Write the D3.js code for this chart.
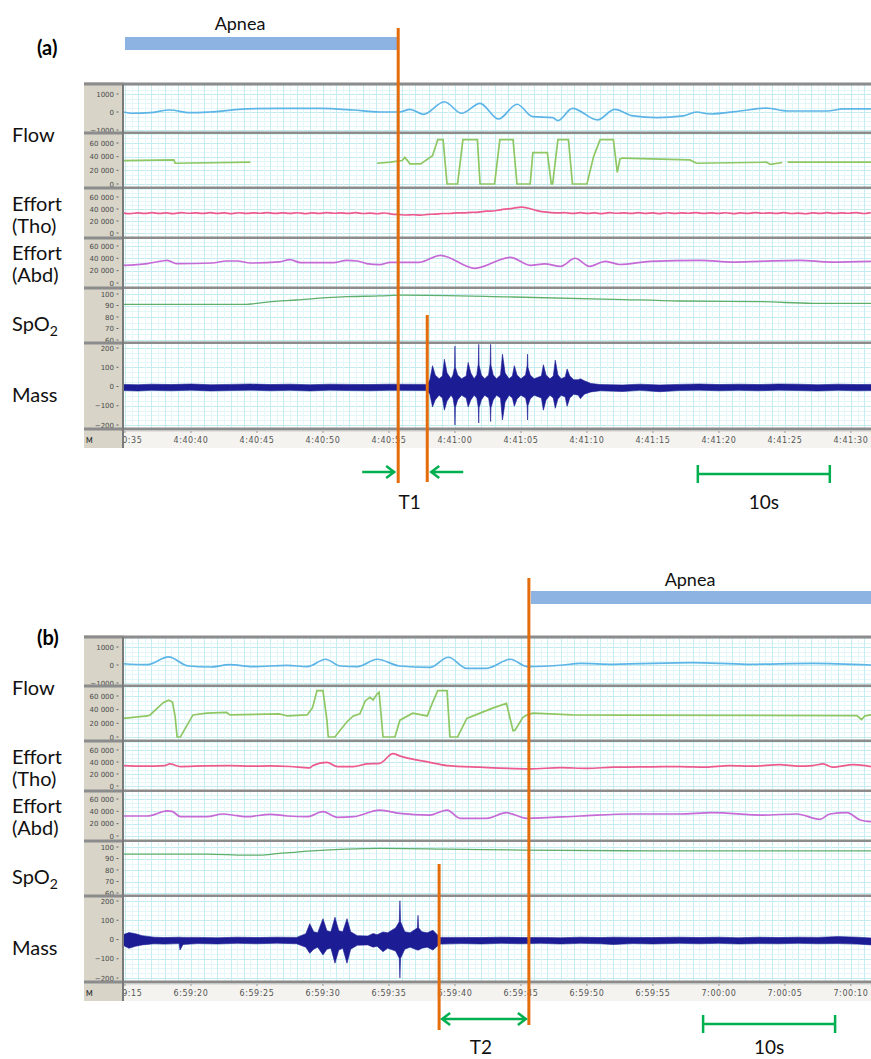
<!DOCTYPE html>
<html>
<head>
<meta charset="utf-8">
<script src="https://cdn.jsdelivr.net/npm/d3@7"></script>
<style>
  body { margin: 0; background: #fff; }
  text { font-family: Lato, "Open Sans", sans-serif; }
  .tickLbl { font-family: "DejaVu Sans", sans-serif; font-size: 7px; fill: #4a4a4a; }
  .timeLbl { font-family: "DejaVu Sans", sans-serif; font-size: 8px; fill: #555; letter-spacing: 0.6px; }
</style>
</head>
<body>
<div id="chart"></div>
<script>
var svgWidth = 871;
var svgHeight = 1059;
var plotLeft = 123, plotRight = 871;

// time is in seconds after the first (clipped) time label of each recording
var timeDomain = [-0.15, 56.52];
var startA = 4 * 3600 + 40 * 60 + 35;   // 4:40:35
var startB = 6 * 3600 + 59 * 60 + 15;   // 6:59:15

// ---------- panel (a) ----------
var apneaA = [-0.15, 20.7];
var markA = 22.9;            // start of snoring (T1 end)
var scaleBarA = [43.4, 53.4];

var flowA = [[-0.15,0],[0.6,-70],[1.9,-40],[3.4,110],[4.9,-40],[6.4,0],[9.2,170],[11.7,200],[14.8,200],[17.3,110],[19.3,0],[20.8,0],[21.6,150],[22.6,-130],[24.2,570],[25.5,-70],[26.9,480],[28.3,-390],[29.7,430],[30.9,-260],[32.4,-310],[32.8,-480],[33.9,200],[35.8,-440],[37.1,150],[38.5,-220],[40.3,-310],[42.3,-220],[43.3,0],[44.3,-110],[46.6,55],[48.6,220],[50.2,55],[53.2,55],[54.4,170],[56.52,170]];

// flow (thermistor) in thousands, null = no signal
var flow2A = [[-0.15,34.3],[3.7,35.3],[3.8,30.4],[9.5,31.9],[9.6,null],[19.0,null],[19.1,30.4],[20.1,31.9],[21.0,34.3],[21.2,39],[21.6,29.5],[22.4,29.5],[23.3,41.4],[23.7,65],[24.1,65],[24.4,0],[25.2,0],[25.6,65],[26.7,65],[26.9,0],[28.0,0],[28.4,65],[29.4,65],[29.7,0],[30.7,0],[30.9,46],[32.0,46],[32.3,0],[32.4,0],[32.8,65],[33.6,65],[33.9,0],[35.0,0],[35.5,40],[36.0,65],[37.0,65],[37.3,17],[37.5,36.7],[37.7,38],[42.8,35.3],[43.3,30.4],[48.6,31.9],[48.9,28.6],[49.8,31.5],[49.9,null],[50.1,null],[50.2,31.9],[56.52,31.9]];

// thoracic effort (thousands), one reading every 0.55 s from -0.15 s
var thoStepA = 0.55;
var thoA = [33.5,31.5,34.5,31.5,35,31.5,34.5,31,35,32,34.5,31.5,35,31.5,34.5,31,35,31.5,34.5,32,35,31.5,34.5,31.5,35,31,34.5,31.5,35,32,34.5,31.5,35,31.5,34,31,34.5,31,
  31,29.5,31,29,31.5,
  31,33,32,34,33,35,34,37,36,39,40,42,44,
  41,37,35,34,33,
  34.5,31.5,35,31.5,34.5,31,35,32,34.5,31.5,35,31.5,34.5,31,35,31.5,34.5,32,35,31.5,34.5,31.5,35,31,34.5,31.5,35,32,34.5,31.5,35,31.5,34,31,34.5,31.5,35,31.5,34.5,32,35,31.5,34];

var abdA = [[-0.15,28.7],[1.7,31.5],[2.8,35.7],[3.2,36.8],[3.9,31.5],[6.6,32.4],[7.7,35.7],[8.5,35.7],[9.5,32.4],[11.7,34.1],[12.5,38],[13.3,33],[15.8,33],[16.8,36.8],[17.6,35.7],[18.3,31.5],[19.3,29.8],[20.1,33.6],[22.3,33.6],[23.9,44.9],[26.5,23.8],[29.2,41.7],[30.7,28.7],[31.8,31],[33.0,27.1],[34.1,40.1],[35.2,27.1],[36.4,35.2],[37.5,30],[39.8,35.2],[43.6,36.8],[46,34],[48.1,35.2],[51.1,36.8],[53.5,34],[56.52,35.2]];

var spo2A = [[-0.15,91],[9.2,91],[9.7,91.5],[10.8,93],[13,94.8],[15.3,96.8],[16.8,97.7],[19.3,98.3],[21,99],[29.4,97.4],[37,95.4],[42,93.9],[48.3,93.3],[52.1,91.9],[56.52,91.9]];

// mass (sound) envelope: [t, low, high]
var massA = [[-0.15,-21,11],[1,-23,9],[2,-20,12],[3.5,-22,10],[5,-19,13],[6.5,-23,9],[8,-21,11],[9.5,-19,13],[11,-22,10],[12.5,-20,12],[14,-23,9],[15.5,-19,12],[17,-21,11],[18.5,-22,10],[20,-20,12],[22.9,-21,11],
  [23.1,-40,35],[23.3,-106,108],[23.5,-70,60],[23.8,-45,40],
  [24.05,-60,55],[24.2,-123,142],[24.4,-75,70],[24.7,-45,40],
  [24.85,-60,60],[24.97,-110,100],[25.0,-200,210],[25.03,-110,100],[25.2,-70,60],[25.5,-45,40],
  [25.85,-60,55],[26.0,-106,125],[26.2,-70,70],[26.45,-45,40],
  [26.65,-60,60],[26.77,-110,120],[26.8,-190,219],[26.83,-110,110],[27.0,-70,60],[27.25,-45,40],
  [27.55,-60,60],[27.67,-110,120],[27.7,-182,219],[27.73,-110,110],[27.9,-70,60],[28.15,-45,40],
  [28.45,-60,60],[28.6,-174,168],[28.8,-80,70],[29.1,-45,40],
  [29.35,-60,55],[29.5,-103,108],[29.7,-65,60],[30.0,-45,40],
  [30.35,-60,60],[30.47,-100,110],[30.5,-174,168],[30.53,-100,100],[30.7,-65,60],[31.0,-45,40],
  [31.55,-60,55],[31.7,-123,113],[31.9,-70,60],[32.2,-45,40],
  [32.45,-60,55],[32.6,-113,137],[32.8,-65,60],[33.05,-45,40],
  [33.35,-55,50],[33.5,-103,91],[33.7,-60,55],[34.0,-40,35],
  [34.35,-45,35],[34.5,-63,40],[34.8,-40,30],[35.3,-28,16],
  [36,-22,10],[37.7,-26,8],[39,-20,12],[40.5,-27,8],[42,-21,11],[43.5,-19,13],[45,-22,10],[46.5,-20,12],[48,-22,10],[49.5,-19,13],[51,-21,12],[52.5,-23,9],[54,-20,12],[55.5,-22,10],[56.52,-21,11]];

// ---------- panel (b) ----------
var apneaB = [30.6, 56.52];
var markB = 23.8;            // end of snoring (T2 start)
var scaleBarB = [43.8, 53.8];

var flowB = [[-0.15,70],[1.7,20],[3.3,450],[4.8,-55],[6.5,-110],[7.9,20],[9.7,-90],[12.3,-20],[13.8,-90],[15.2,320],[16.3,-55],[17.6,-90],[19.1,320],[20.8,-55],[23.1,-130],[24.5,430],[25.9,-185],[27.4,-185],[29.2,320],[30.5,-90],[33.2,0],[34.5,90],[37,40],[43,130],[47.1,40],[52.1,90],[56.52,0]];

var flow2B = [[-0.15,27.2],[1.7,30.8],[1.9,32.3],[2.9,50.3],[3.3,53.8],[3.6,51.2],[3.8,29.7],[3.95,0],[4.2,0],[5.15,32.3],[6.2,34.9],[7.7,35.9],[7.95,32.3],[11.7,33.8],[12.3,30.8],[13.8,32.3],[14.2,42.6],[14.55,68],[15.0,68],[15.3,24.6],[15.4,0],[15.9,0],[16.8,22],[17.3,30.8],[17.8,33.8],[18.2,52.8],[18.56,58],[18.8,54.3],[19.1,63],[19.25,65.6],[19.55,0],[20.45,0],[20.83,24.6],[21.8,34.9],[22.9,30.8],[23.3,50.3],[23.7,68],[24.4,68],[24.62,0],[25.2,0],[25.9,27.2],[26.9,34.9],[27.9,42.6],[28.9,49.2],[29.4,9.2],[29.55,10],[30.15,28.7],[30.45,32.3],[30.9,34.9],[33.9,32.3],[37.5,32],[55.45,31.2],[55.8,25.6],[56.06,31],[56.52,32.3]];

var thoB = [[-0.15,34],[1.5,33],[3,34],[3.4,36.8],[4.2,32.4],[6,33.5],[8,34],[9.5,33],[11,33.5],[12.5,32.5],[14,30.3],[14.24,34],[15.3,39.4],[16.1,32.4],[17.3,32.4],[18.3,36.8],[19.3,37.8],[20.3,54],[20.8,50.3],[23.1,39.4],[24.4,34],[26.9,31.3],[30.7,28.7],[33,30.5],[35,29.5],[37,31.3],[40,32],[42,32.4],[44,31.5],[45.8,34],[47.5,33],[49.6,35.7],[51,33],[52.1,34],[52.9,36.8],[53.6,31.3],[55.2,35.7],[56.52,32.4]];

var abdB = [[-0.15,32.4],[1.7,32.4],[3.2,40.6],[3.56,40],[4.2,31.3],[6.2,31.3],[7.4,35.7],[8.5,33],[9.2,31.3],[11,35.2],[12.3,32.4],[13.8,31.3],[15,39.4],[16.1,30.3],[17.3,31.3],[19.3,42],[20.8,36.8],[23.1,34],[24.4,42],[25.4,28.7],[27.4,28.7],[28.9,37.8],[30.45,28.7],[34.5,32.4],[38.3,35.7],[42,35.7],[44.5,37.8],[48.3,34],[50.9,35.7],[52.65,27],[53.4,35.7],[54.7,37.8],[55.7,26],[56.52,23.2]];

var spo2B = [[-0.15,93.8],[6.2,93.8],[9.2,92.9],[10.2,92.9],[11.7,94.4],[14.2,96.7],[16.8,98.2],[19.3,98.8],[24.4,98.2],[30.2,97.3],[40,96.7],[56.52,96.7]];

var massB = [[-0.15,-30,25],[0.3,-46,36],[0.8,-35,30],[1.3,-28,20],[2.2,-22,12],[3,-24,10],[4.1,-21,12],[4.17,-55,12],[4.4,-26,11],[5.5,-21,11],[7,-23,9],[8.5,-20,12],[10,-22,10],[11.5,-19,12],[13,-22,11],
  [13.7,-40,30],[14.0,-72,82],[14.3,-50,40],[14.6,-40,35],[15.0,-80,108],[15.3,-50,45],[15.6,-45,40],[15.91,-123,116],[16.2,-55,45],[16.5,-45,40],[16.82,-123,108],[17.1,-50,40],[17.6,-30,20],
  [18.4,-28,18],[18.8,-40,31],[19.1,-35,25],[19.55,-63,39],[19.9,-45,35],[20.5,-60,60],[20.78,-97,92],[20.83,-200,201],[20.88,-97,92],[21.2,-50,40],[21.6,-40,35],[22.15,-55,60],[22.2,-55,125],[22.25,-55,60],[22.5,-45,40],[22.9,-40,35],[23.33,-55,48],[23.7,-32,22],[23.9,-24,11],
  [25.5,-21,11],[27,-23,10],[28.5,-20,12],[30,-22,10],[31.5,-20,11],[33,-23,9],[34.5,-20,12],[36,-22,10],[37,-26,12],[38.5,-21,11],[40,-23,10],[42,-20,12],[43.5,-22,10],[45,-20,12],[46.5,-23,9],[48,-21,12],[49.5,-22,10],[51,-20,12],[52.5,-22,11],[54,-21,15],[55.5,-24,12],[56.52,-28,8]];

// rows of the polygraph window (y positions relative to the panel top)
var rows = [
  {key: "flow",  domain: [-1000, 1000], range: [46, 10],   top: 0,   bottom: 49,  ticks: [1000, 0, -1000], grid: 250, color: "#5db4e6"},
  {key: "flow2", domain: [0, 60],       range: [100, 59],  top: 49,  bottom: 104, ticks: [60, 40, 20, 0], grid: 20 / 3, color: "#8fc764", k: true},
  {key: "tho",   domain: [0, 60],       range: [149, 113], top: 104, bottom: 154, ticks: [60, 40, 20, 0], grid: 20 / 3, color: "#ec5b8e", k: true},
  {key: "abd",   domain: [0, 60],       range: [199, 162], top: 154, bottom: 204, ticks: [60, 40, 20, 0], grid: 20 / 3, color: "#c66ad6", k: true},
  {key: "spo2",  domain: [60, 100],     range: [256, 210], top: 204, bottom: 259, ticks: [100, 90, 80, 70, 60], grid: 5, color: "#5fae6c"},
  {key: "mass",  domain: [-200, 200],   range: [341, 264], top: 259, bottom: 345, ticks: [200, 100, 0, -100, -200], grid: 25, color: "#1c1c95"}
];

var sideLabels = [
  {lines: ["Flow"], y: 51},
  {lines: ["Effort", "(Tho)"], y: 120},
  {lines: ["Effort", "(Abd)"], y: 169},
  {lines: ["SpO2"], y: 240},
  {lines: ["Mass"], y: 311}
];

var panels = [
  {id: "a", top: 84, start: startA, flow: flowA, flow2: flow2A, abd: abdA, spo2: spo2A, mass: massA,
   tho: thoA.map(function(v, i) { return [-0.15 + i * thoStepA, v]; }),
   tag: "(a)", tagY: 55, apnea: apneaA, apneaTextX: 240, apneaTextY: 30, barY: 37,
   mainLine: apneaA[1], mainY: [28, 483], mark: markA, markY: [315, 482],
   label: "T1", arrowY: 472, scaleBar: scaleBarA, scaleY: 474, textY: 509},
  {id: "b", top: 637, start: startB, flow: flowB, flow2: flow2B, tho: thoB, abd: abdB, spo2: spo2B, mass: massB,
   tag: "(b)", tagY: 645, apnea: apneaB, apneaTextX: 690, apneaTextY: 586, barY: 591,
   mainLine: apneaB[0], mainY: [578, 1025], mark: markB, markY: [864, 1030],
   label: "T2", arrowY: 1019, scaleBar: scaleBarB, scaleY: 1024, textY: 1054}
];

var svg = d3.select("#chart")
  .append("svg")
  .attr("width", svgWidth)
  .attr("height", svgHeight);

var x = d3.scaleLinear().domain(timeDomain).range([plotLeft, plotRight]);

function fmtTime(s) {
  var h = Math.floor(s / 3600), m = Math.floor(s / 60) % 60, sec = s % 60;
  return h + ":" + d3.format("02")(m) + ":" + d3.format("02")(sec);
}
function fmtTick(v, k) {
  return k ? d3.format(",")(v * 1000).replace(/,/g, " ").replace("-", "\u2212")
           : String(v).replace("-", "\u2212");
}

var green = "#00b050", orange = "#e46c0a";

function drawPanel(p) {
  var g = svg.append("g").attr("transform", `translate(0, ${p.top})`);

  // gray value-label strip and time strip
  g.append("rect").attr("x", 84).attr("y", -2).attr("width", 40).attr("height", 366).attr("fill", "#d8d5c8");
  g.append("rect").attr("x", plotLeft).attr("y", 346).attr("width", plotRight - plotLeft).attr("height", 18).attr("fill", "#f4f3ef");

  rows.forEach(function(r) {
    var y = d3.scaleLinear().domain(r.domain).range(r.range);
    var clipId = "clip-" + p.id + "-" + r.key;
    g.append("clipPath").attr("id", clipId)
      .append("rect").attr("x", plotLeft).attr("y", r.top + 1).attr("width", plotRight - plotLeft).attr("height", r.bottom - r.top - 2);
    var lblClip = "lclip-" + p.id + "-" + r.key;
    g.append("clipPath").attr("id", lblClip)
      .append("rect").attr("x", 84).attr("y", r.top + 2).attr("width", 40).attr("height", r.bottom - r.top - 3);

    var rowG = g.append("g").attr("clip-path", `url(#${clipId})`);
    rowG.append("rect").attr("x", plotLeft).attr("y", r.top).attr("width", plotRight - plotLeft).attr("height", r.bottom - r.top).attr("fill", "#fff");

    // grid
    var lo = y.invert(r.bottom), hi = y.invert(r.top);
    var tickStep = Math.abs(r.ticks[0] - r.ticks[1]);
    var hv = [];
    for (var v = Math.ceil(lo / r.grid) * r.grid; v <= hi; v += r.grid) hv.push(v);
    rowG.selectAll(".hg").data(hv).enter().append("line")
      .attr("x1", plotLeft).attr("x2", plotRight)
      .attr("y1", d => Math.round(y(d)) + 0.5).attr("y2", d => Math.round(y(d)) + 0.5)
      .attr("stroke", d => Math.abs(d / tickStep - Math.round(d / tickStep)) < 1e-6 ? "#c2ebf0" : "#e3f7f9")
      .attr("stroke-width", 1);
    var vv = d3.range(0, 57, 0.5);
    rowG.selectAll(".vg").data(vv).enter().append("line")
      .attr("x1", d => Math.round(x(d)) + 0.5).attr("x2", d => Math.round(x(d)) + 0.5)
      .attr("y1", r.top).attr("y2", r.bottom)
      .attr("stroke", d => d % 1 === 0 ? "#c6edf1" : "#e4f7f9")
      .attr("stroke-width", 1);

    // signal
    var data = p[r.key];
    if (r.key === "mass") {
      var area = d3.area().x(d => x(d[0])).y0(d => y(d[1])).y1(d => y(d[2]));
      rowG.append("path").datum(data).attr("d", area).attr("fill", r.color).attr("stroke", r.color).attr("stroke-width", 0.6);
    } else {
      var crv = r.key === "flow2" ? d3.curveLinear : (r.key === "tho" && p.id === "a" ? d3.curveBasis : d3.curveMonotoneX);
      var line = d3.line().defined(d => d[1] != null).x(d => x(d[0])).y(d => y(d[1])).curve(crv);
      rowG.append("path").datum(data).attr("d", line).attr("fill", "none")
        .attr("stroke", r.color).attr("stroke-width", r.key === "spo2" ? 1.3 : 1.7);
    }

    // value labels
    var lg = g.append("g").attr("clip-path", `url(#${lblClip})`);
    r.ticks.forEach(function(t) {
      lg.append("text").attr("class", "tickLbl").attr("x", 114).attr("y", y(t) + 2.5)
        .attr("text-anchor", "end").text(fmtTick(t, r.k));
      lg.append("line").attr("x1", 116.5).attr("x2", 118.5).attr("y1", y(t)).attr("y2", y(t))
        .attr("stroke", "#666").attr("stroke-width", 1);
    });

    // separator
    g.append("line").attr("x1", 84).attr("x2", plotRight).attr("y1", r.bottom).attr("y2", r.bottom)
      .attr("stroke", "#8c8c8c").attr("stroke-width", 3);
    g.append("line").attr("x1", plotLeft).attr("x2", plotRight).attr("y1", r.bottom + 2).attr("y2", r.bottom + 2)
      .attr("stroke", "#cfcfcf").attr("stroke-width", 1);
  });

  // top frame and left border
  g.append("line").attr("x1", 84).attr("x2", plotRight).attr("y1", 0).attr("y2", 0)
    .attr("stroke", "#8c8c8c").attr("stroke-width", 3);
  g.append("line").attr("x1", plotLeft).attr("x2", plotLeft).attr("y1", 0).attr("y2", 364)
    .attr("stroke", "#7a7a7a").attr("stroke-width", 2);

  // time labels
  var tg = g.append("g");
  g.append("clipPath").attr("id", "tclip-" + p.id)
    .append("rect").attr("x", plotLeft + 1).attr("y", 346).attr("width", plotRight - plotLeft).attr("height", 18);
  tg.attr("clip-path", `url(#tclip-${p.id})`);
  d3.range(0, 57, 5).forEach(function(t) {
    tg.append("text").attr("class", "timeLbl").attr("x", x(t)).attr("y", 359)
      .attr("text-anchor", "middle").text(fmtTime(p.start + t));
    tg.append("line").attr("x1", x(t)).attr("x2", x(t)).attr("y1", 347).attr("y2", 349)
      .attr("stroke", "#999");
  });
  g.append("text").attr("x", 86).attr("y", 359).attr("font-family", "DejaVu Sans").attr("font-size", 7)
    .attr("font-weight", "bold").attr("fill", "#333").text("M");

  // row names
  sideLabels.forEach(function(s) {
    s.lines.forEach(function(l, i) {
      var t = g.append("text").attr("x", 12).attr("y", s.y + 7 + i * 22).attr("font-size", 20).attr("fill", "#111");
      if (l === "SpO2") {
        t.append("tspan").text("SpO");
        t.append("tspan").attr("font-size", 14).attr("dy", 5).text("2");
      } else {
        t.text(l);
      }
    });
  });

  // apnea bar, tag and event lines (absolute coordinates)
  svg.append("text").attr("x", 37).attr("y", p.tagY).attr("font-size", 20).attr("font-weight", "bold").text(p.tag);
  svg.append("rect").attr("x", x(p.apnea[0]) + 2).attr("y", p.barY)
    .attr("width", x(p.apnea[1]) - x(p.apnea[0]) - 2).attr("height", 13).attr("fill", "#8db3e2");
  svg.append("text").attr("x", p.apneaTextX).attr("y", p.apneaTextY).attr("font-size", 18)
    .attr("text-anchor", "middle").attr("fill", "#111").text("Apnea");

  svg.append("line").attr("x1", x(p.mainLine)).attr("x2", x(p.mainLine))
    .attr("y1", p.mainY[0]).attr("y2", p.mainY[1]).attr("stroke", orange).attr("stroke-width", 3);
  svg.append("line").attr("x1", x(p.mark)).attr("x2", x(p.mark))
    .attr("y1", p.markY[0]).attr("y2", p.markY[1]).attr("stroke", orange).attr("stroke-width", 3);

  var xl = Math.min(x(p.mainLine), x(p.mark)), xr = Math.max(x(p.mainLine), x(p.mark));
  var ay = p.arrowY, ag = svg.append("g").attr("fill", "none").attr("stroke", green).attr("stroke-width", 2.5);
  if (p.id === "a") {
    ag.append("path").attr("d", `M${xl - 36},${ay}H${xl - 4}M${xl - 12},${ay - 6}L${xl - 4},${ay}L${xl - 12},${ay + 6}`);
    ag.append("path").attr("d", `M${xr + 36},${ay}H${xr + 4}M${xr + 12},${ay - 6}L${xr + 4},${ay}L${xr + 12},${ay + 6}`);
  } else {
    ag.append("path").attr("d", `M${xl + 3},${ay}H${xr - 3}M${xl + 11},${ay - 6}L${xl + 3},${ay}L${xl + 11},${ay + 6}M${xr - 11},${ay - 6}L${xr - 3},${ay}L${xr - 11},${ay + 6}`);
  }
  svg.append("text").attr("x", (xl + xr) / 2 - 3).attr("y", p.textY).attr("font-size", 19)
    .attr("text-anchor", "middle").attr("fill", "#111").text(p.label);

  // 10 s scale bar
  var s0 = x(p.scaleBar[0]), s1 = x(p.scaleBar[1]), sy = p.scaleY;
  ag.append("path").attr("d", `M${s0},${sy}H${s1}M${s0},${sy - 9}V${sy + 9}M${s1},${sy - 9}V${sy + 9}`);
  svg.append("text").attr("x", (s0 + s1) / 2).attr("y", p.textY).attr("font-size", 19)
    .attr("text-anchor", "middle").attr("fill", "#111").text("10s");
}

panels.forEach(drawPanel);
</script>
</body>
</html>
